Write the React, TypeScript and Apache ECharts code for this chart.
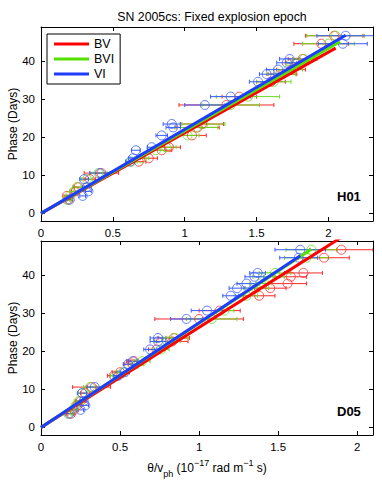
import React, { useEffect, useRef } from "react";
import * as echarts from "echarts";

// Phases (days) shared by all points
const phases = [3.6, 4.6, 5.8, 6.9, 9.0, 10.6, 13.6, 14.5, 16.6, 17.4, 20.5, 22.6, 23.5, 28.5, 30.7, 34.6, 36.6, 37.8, 39.6, 40.6, 44.6, 46.7];

// H01 panel (top)
const h01BV = [0.19, 0.18, 0.24, 0.26, 0.34, 0.42, 0.68, 0.75, 0.84, 0.89, 1.05, 1.09, 1.12, 1.29, 1.38, 1.60, 1.68, 1.74, 1.78, 1.82, 1.95, 2.04];
const h01BVErr = [0.02, 0.02, 0.03, 0.03, 0.04, 0.12, 0.05, 0.06, 0.07, 0.08, 0.10, 0.15, 0.15, 0.33, 0.12, 0.10, 0.10, 0.10, 0.08, 0.10, 0.19, 0.20];
const h01BVI = [0.18, 0.20, 0.23, 0.25, 0.32, 0.40, 0.63, 0.70, 0.80, 0.87, 1.02, 1.08, 1.13, 1.32, 1.44, 1.62, 1.67, 1.72, 1.77, 1.83, 2.00, 2.05];
const h01BVIErr = [0.02, 0.02, 0.03, 0.03, 0.04, 0.06, 0.04, 0.05, 0.06, 0.07, 0.08, 0.15, 0.15, 0.20, 0.22, 0.12, 0.10, 0.10, 0.06, 0.08, 0.18, 0.20];
const h01VI = [0.20, 0.29, 0.33, 0.32, 0.30, 0.41, 0.62, 0.64, 0.66, 0.77, 0.84, 0.92, 0.91, 1.14, 1.32, 1.51, 1.57, 1.65, 1.71, 1.73, 2.10, 2.12];
const h01VIErr = [0.02, 0.02, 0.02, 0.02, 0.03, 0.07, 0.03, 0.03, 0.03, 0.03, 0.04, 0.05, 0.06, 0.14, 0.14, 0.06, 0.05, 0.08, 0.07, 0.07, 0.17, 0.20];

// D05 panel (bottom)
const d05BV = [0.19, 0.21, 0.23, 0.25, 0.28, 0.32, 0.46, 0.50, 0.58, 0.59, 0.73, 0.83, 0.84, 1.00, 1.13, 1.38, 1.45, 1.56, 1.58, 1.66, 1.79, 1.90];
const d05BVErr = [0.02, 0.02, 0.02, 0.03, 0.03, 0.12, 0.04, 0.05, 0.05, 0.05, 0.05, 0.10, 0.10, 0.28, 0.13, 0.10, 0.10, 0.12, 0.10, 0.12, 0.16, 0.20];
const d05BVI = [0.17, 0.20, 0.22, 0.24, 0.26, 0.31, 0.48, 0.52, 0.60, 0.64, 0.76, 0.80, 0.85, 1.08, 1.16, 1.30, 1.36, 1.39, 1.44, 1.48, 1.68, 1.71];
const d05BVIErr = [0.02, 0.02, 0.02, 0.03, 0.03, 0.04, 0.04, 0.04, 0.05, 0.05, 0.05, 0.08, 0.08, 0.16, 0.06, 0.07, 0.08, 0.07, 0.10, 0.10, 0.14, 0.16];
const d05VI = [0.18, 0.25, 0.28, 0.27, 0.26, 0.34, 0.49, 0.53, 0.55, 0.58, 0.69, 0.74, 0.74, 0.92, 1.05, 1.20, 1.24, 1.30, 1.35, 1.37, 1.63, 1.64];
const d05VIErr = [0.02, 0.02, 0.02, 0.02, 0.03, 0.05, 0.03, 0.03, 0.03, 0.03, 0.04, 0.05, 0.05, 0.10, 0.10, 0.05, 0.05, 0.06, 0.06, 0.05, 0.12, 0.16];

// Fit lines through the origin: slope (days per unit) and end abscissa
const fitNames = ["BV", "BVI", "VI"];
const h01Slopes = [21.2, 21.7, 22.1];
const h01Ends = [2.05, 2.08, 2.12];
const d05Slopes = [26.3, 27.4, 27.5];
const d05Ends = [1.90, 1.71, 1.64];

const xMaxTop = 2.31;
const xMaxBottom = 2.1;
const yMin = -2;
const yMax = 49;

const lineColors = ["#ff0000", "#55e000", "#1e3cff"];
const markColors = ["#ff2a2a", "#66dd22", "#3a5cff"];
const FONT = "Liberation Sans, Arial, Helvetica, sans-serif";

function errSeries(name: string, xs: number[], errs: number[], color: string, gi: number) {
  return {
    type: "custom",
    name,
    xAxisIndex: gi * 2,
    yAxisIndex: gi * 2,
    clip: true,
    z: 2,
    encode: { x: 0, y: 1 },
    data: xs.map((x, i) => [x, phases[i], errs[i]]),
    renderItem: (_p: any, api: any) => {
      const x = api.value(0);
      const y = api.value(1);
      const e = api.value(2);
      const a = api.coord([x - e, y]);
      const b = api.coord([x + e, y]);
      const h = 2;
      const st = { stroke: color, lineWidth: 1 };
      return {
        type: "group",
        children: [
          { type: "line", shape: { x1: a[0], y1: a[1], x2: b[0], y2: b[1] }, style: st },
          { type: "line", shape: { x1: a[0], y1: a[1] - h, x2: a[0], y2: a[1] + h }, style: st },
          { type: "line", shape: { x1: b[0], y1: b[1] - h, x2: b[0], y2: b[1] + h }, style: st },
        ],
      };
    },
  };
}

function ptSeries(name: string, xs: number[], color: string, gi: number) {
  return {
    type: "scatter",
    name,
    xAxisIndex: gi * 2,
    yAxisIndex: gi * 2,
    symbol: "circle",
    symbolSize: 9,
    z: 3,
    itemStyle: { color: "rgba(0,0,0,0)", borderColor: color, borderWidth: 1 },
    data: xs.map((x, i) => [x, phases[i]]),
  };
}

function fitSeries(name: string, slope: number, end: number, color: string, gi: number) {
  return {
    type: "line",
    name,
    xAxisIndex: gi * 2,
    yAxisIndex: gi * 2,
    showSymbol: false,
    symbol: "none",
    clip: true,
    z: 5,
    lineStyle: { color, width: 3 },
    itemStyle: { color },
    data: [
      [0, 0],
      [end, slope * end],
    ],
  };
}

function xAxes(gi: number, max: number) {
  const base = {
    type: "value",
    gridIndex: gi,
    min: 0,
    max,
    interval: 0.5,
    splitLine: { show: false },
    axisLine: { show: true, onZero: false, lineStyle: { color: "#000", width: 1 } },
    axisTick: { show: true, inside: true, length: 4, lineStyle: { color: "#000" } },
  };
  return [
    {
      ...base,
      position: "bottom",
      axisLabel: {
        show: true,
        color: "#000",
        fontSize: 11.5,
        fontFamily: FONT,
        margin: 6,
        formatter: (v: number) => (Math.abs(v * 2 - Math.round(v * 2)) < 1e-6 ? String(v) : ""),
      },
    },
    { ...base, position: "top", axisLabel: { show: false } },
  ];
}

function yAxes(gi: number) {
  const base = {
    type: "value",
    gridIndex: gi,
    min: yMin,
    max: yMax,
    splitNumber: 5,
    splitLine: { show: false },
    axisLine: { show: true, onZero: false, lineStyle: { color: "#000", width: 1 } },
    axisTick: { show: true, inside: true, length: 4, lineStyle: { color: "#000" } },
  };
  return [
    {
      ...base,
      position: "left",
      name: "Phase (Days)",
      nameLocation: "middle",
      nameGap: 22,
      nameRotate: 90,
      nameMoveOverlap: false,
      nameTextStyle: { color: "#000", fontSize: 12, fontFamily: FONT },
      axisLabel: {
        show: true,
        color: "#000",
        fontSize: 11.5,
        fontFamily: FONT,
        margin: 6,
        formatter: (v: number) => (Math.abs(v % 10) < 1e-6 ? String(v) : ""),
      },
    },
    { ...base, position: "right", axisLabel: { show: false } },
  ];
}

export default function App() {
  const ref = useRef<HTMLDivElement>(null);
  useEffect(() => {
    if (!ref.current) return;
    const chart = echarts.init(ref.current, undefined, { renderer: "svg" });
    const series: any[] = [];
    const panels = [
      { bv: h01BV, bve: h01BVErr, bvi: h01BVI, bvie: h01BVIErr, vi: h01VI, vie: h01VIErr, slopes: h01Slopes, ends: h01Ends },
      { bv: d05BV, bve: d05BVErr, bvi: d05BVI, bvie: d05BVIErr, vi: d05VI, vie: d05VIErr, slopes: d05Slopes, ends: d05Ends },
    ];
    panels.forEach((p, gi) => {
      const sets = [
        [p.bv, p.bve],
        [p.bvi, p.bvie],
        [p.vi, p.vie],
      ];
      sets.forEach((s, k) => {
        series.push(errSeries(fitNames[k] + " err " + gi, s[0], s[1], markColors[k], gi));
        series.push(ptSeries(fitNames[k] + " pts " + gi, s[0], markColors[k], gi));
      });
      fitNames.forEach((n, k) => {
        series.push(fitSeries(n, p.slopes[k], p.ends[k], lineColors[k], gi));
      });
    });

    const xAx = [...xAxes(0, xMaxTop), ...xAxes(1, xMaxBottom)];
    (xAx[2] as any).name =
      "{a|θ/v}{sub|ph}{a| (10}{sup|−17}{a| rad m}{sup|−1}{a| s)}";
    (xAx[2] as any).nameLocation = "middle";
    (xAx[2] as any).nameGap = 23;
    (xAx[2] as any).nameMoveOverlap = false;
    (xAx[2] as any).nameTextStyle = {
      color: "#000",
      fontFamily: FONT,
      rich: {
        a: { fontSize: 12, lineHeight: 20, fontFamily: FONT, color: "#000" },
        sub: { fontSize: 9, verticalAlign: "bottom", fontFamily: FONT, color: "#000" },
        sup: { fontSize: 9, verticalAlign: "top", fontFamily: FONT, color: "#000" },
      },
    };

    chart.setOption({
      animation: false,
      backgroundColor: "#fff",
      textStyle: { fontFamily: FONT },
      title: {
        text: "SN 2005cs: Fixed explosion epoch",
        left: 207,
        top: 6,
        textAlign: "center",
        textStyle: { fontSize: 12.3, fontWeight: "normal", color: "#000", fontFamily: FONT },
      },
      legend: {
        data: fitNames,
        orient: "vertical",
        left: 47,
        top: 34,
        icon: "rect",
        itemWidth: 35,
        itemHeight: 3,
        itemGap: 1,
        padding: [3, 6, 3, 7],
        borderColor: "#000",
        borderWidth: 1,
        backgroundColor: "#fff",
        selectedMode: false,
        textStyle: { fontSize: 12.5, color: "#000", fontFamily: FONT, lineHeight: 14 },
      },
      grid: [
        { left: 41, top: 27, width: 332, height: 194, containLabel: false, outerBoundsMode: "none" },
        { left: 41, top: 241, width: 332, height: 194, containLabel: false, outerBoundsMode: "none" },
      ],
      xAxis: xAx,
      yAxis: [...yAxes(0), ...yAxes(1)],
      graphic: [
        {
          type: "text",
          left: 337,
          top: 190,
          style: { text: "H01", fontSize: 13, fontWeight: "bold", fill: "#000", fontFamily: FONT },
        },
        {
          type: "text",
          left: 337,
          top: 405,
          style: { text: "D05", fontSize: 13, fontWeight: "bold", fill: "#000", fontFamily: FONT },
        },
      ],
      series,
    });
    return () => chart.dispose();
  }, []);
  return (
    <div
      ref={ref}
      style={{ position: "fixed", left: 0, top: 0, width: 382, height: 481, background: "#fff" }}
    />
  );
}
